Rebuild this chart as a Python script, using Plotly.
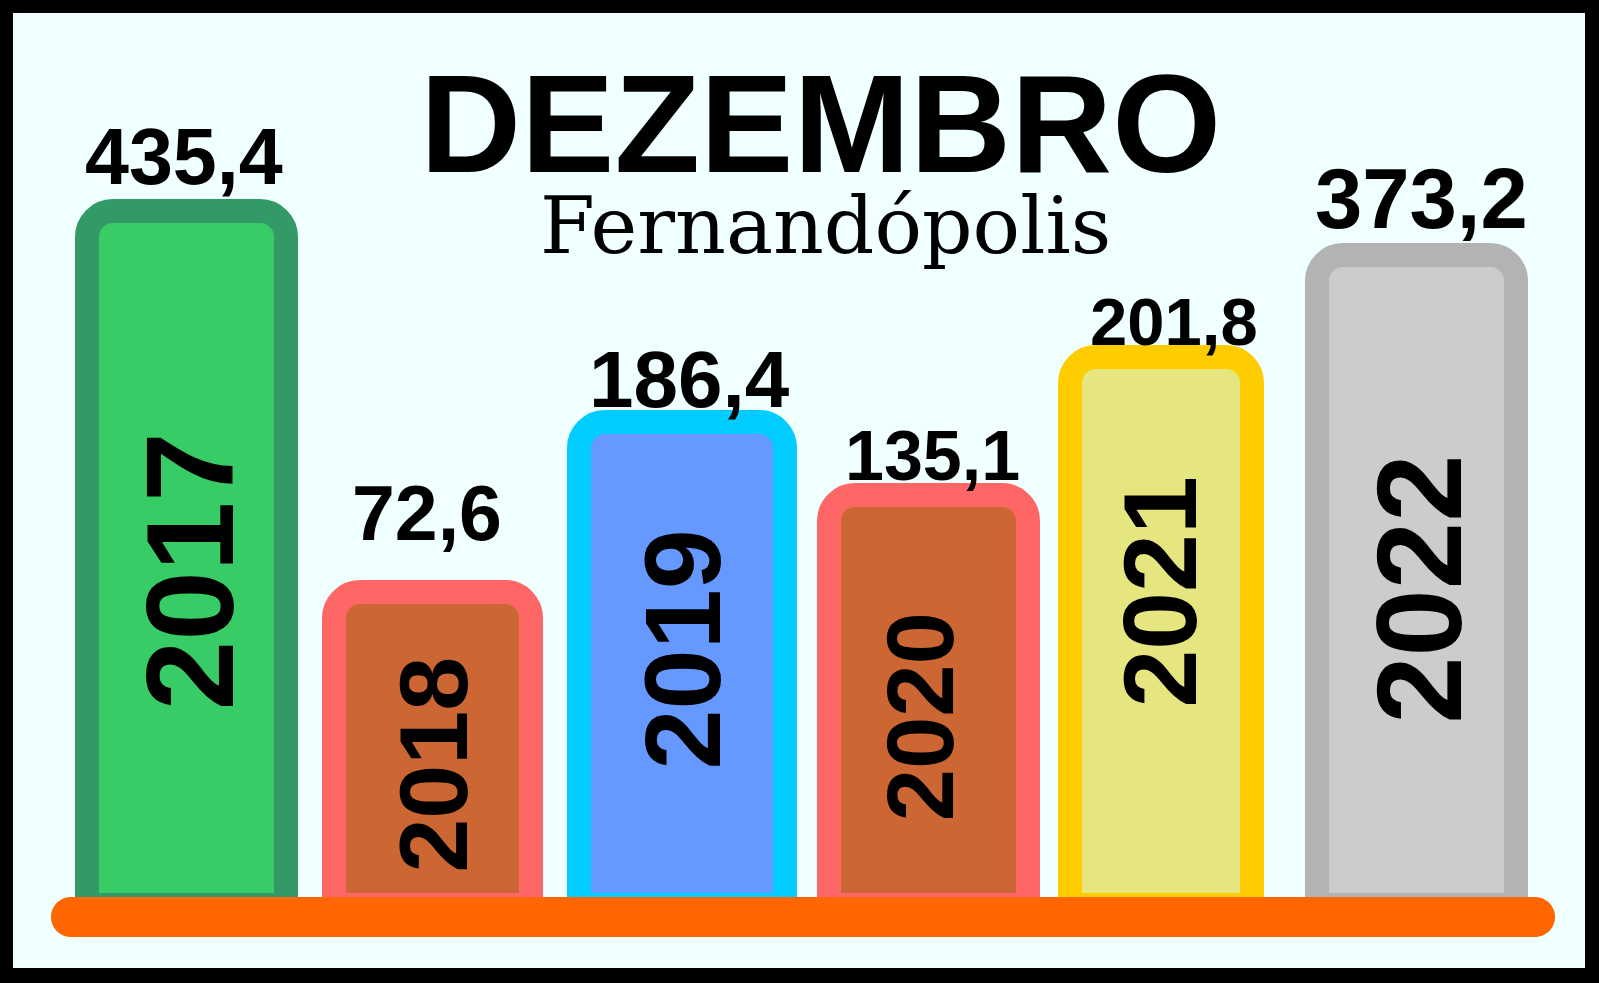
import plotly.graph_objects as go

# ---------------- data ----------------
years = ["2017", "2018", "2019", "2020", "2021", "2022"]
values = ["435,4", "72,6", "186,4", "135,1", "201,8", "373,2"]
# bar heights as drawn in the infographic (not drawn to scale with the values)
bar_heights = [694, 313, 483, 410, 548, 650]
title_text = "DEZEMBRO"
subtitle_text = "Fernandópolis"

# ---------------- styles ----------------
fill_colors = ["#38CC66", "#CC6633", "#6699FF", "#CC6633", "#E6E680", "#CCCCCC"]
edge_colors = ["#339966", "#FF6666", "#00CCFF", "#FF6666", "#FFCC00", "#B3B3B3"]
bar_px_widths = [199, 197, 206, 199, 182, 199]
bar_px_shift = [0, 0, 3.5, 4, -9.5, 0]
val_font_sizes = [79, 77, 80, 70, 67, 85]
val_yshift = [54.5, 79.5, 43, 39, 36, 56.5]
val_xshift = [-2.5, -5.5, 11, 8, 3, 4.5]
year_font_sizes = [125, 97, 108, 94, 104, 121]
year_frac = [0.481, 0.447, 0.528, 0.459, 0.571, 0.485]
year_xshift = [2.5, 1, 4, -4, -10, 2.5]

W, H = 1599, 983
ML, MR, MT, MB = 13, 14, 13, 15
PW = W - ML - MR
PH = H - MT - MB
UNIT = 246.0
X0 = -(186.5 - ML) / UNIT
X1 = X0 + PW / UNIT
Y_BASE_PX = 905
Y0 = -(H - MB - Y_BASE_PX)
Y1 = Y0 + PH

BOLD = "Liberation Sans, Arial, sans-serif"
SERIF = "DejaVu Serif, serif"

xs = list(range(len(years)))
widths = [w / UNIT for w in bar_px_widths]
offsets = [s / UNIT - w / 2 for s, w in zip(bar_px_shift, widths)]

fig = go.Figure()
fig.add_trace(go.Bar(
    x=xs, y=bar_heights, width=widths, offset=offsets,
    marker=dict(color=fill_colors, line=dict(color=edge_colors, width=24),
                cornerradius=26),
    hoverinfo="skip", showlegend=False,
))

annotations = []
for i in xs:
    annotations.append(dict(
        x=i, y=bar_heights[i], xref="x", yref="y", text=values[i],
        showarrow=False, yanchor="middle", xanchor="center",
        yshift=val_yshift[i], xshift=val_xshift[i],
        font=dict(family=BOLD, size=val_font_sizes[i], color="#000000", weight=700),
    ))
    annotations.append(dict(
        x=i, y=bar_heights[i] * year_frac[i], xref="x", yref="y", text=years[i],
        showarrow=False, yanchor="middle", xanchor="center", textangle=-90,
        xshift=year_xshift[i],
        font=dict(family=BOLD, size=year_font_sizes[i], color="#000000", weight=700),
    ))


def px2paper(px, py):
    return (px - ML) / PW, (H - MB - py) / PH


tx, ty = px2paper(820, 123.5)
annotations.append(dict(x=tx, y=ty, xref="paper", yref="paper", text=title_text,
                        showarrow=False, xanchor="center", yanchor="middle",
                        font=dict(family=BOLD, size=140, color="#000000", weight=700)))
sx, sy = px2paper(825, 226)
annotations.append(dict(x=sx, y=sy, xref="paper", yref="paper", text=subtitle_text,
                        showarrow=False, xanchor="center", yanchor="middle",
                        font=dict(family=SERIF, size=79, color="#000000")))


def P(px, py):
    a, b = px2paper(px, py)
    return f"{a:.5f},{b:.5f}"


# orange base strip with rounded ends
x0p, x1p, y0p, y1p = 51, 1555, 897, 937
r = (y1p - y0p) / 2
yc = (y0p + y1p) / 2
k = 0.5523 * r
path = (
    f"M{P(x0p + r, y0p)} L{P(x1p - r, y0p)} "
    f"C{P(x1p - r + k, y0p)} {P(x1p, yc - k)} {P(x1p, yc)} "
    f"C{P(x1p, yc + k)} {P(x1p - r + k, y1p)} {P(x1p - r, y1p)} "
    f"L{P(x0p + r, y1p)} "
    f"C{P(x0p + r - k, y1p)} {P(x0p, yc + k)} {P(x0p, yc)} "
    f"C{P(x0p, yc - k)} {P(x0p + r - k, y0p)} {P(x0p + r, y0p)} Z"
)
shapes = [dict(type="path", xref="paper", yref="paper", path=path,
               fillcolor="#FF6600", line=dict(width=0), layer="above")]

fig.update_layout(
    width=W, height=H,
    margin=dict(l=ML, r=MR, t=MT, b=MB, pad=0),
    paper_bgcolor="#000000",
    plot_bgcolor="#F0FFFF",
    barmode="overlay",
    xaxis=dict(range=[X0, X1], visible=False, showgrid=False, zeroline=False, fixedrange=True),
    yaxis=dict(range=[Y0, Y1], visible=False, showgrid=False, zeroline=False, fixedrange=True),
    annotations=annotations,
    shapes=shapes,
    showlegend=False,
)

fig.write_html(
    "out.html",
    config={"displayModeBar": False, "staticPlot": True},
    post_script="document.body.style.margin='0';document.body.style.overflow='hidden';",
)
